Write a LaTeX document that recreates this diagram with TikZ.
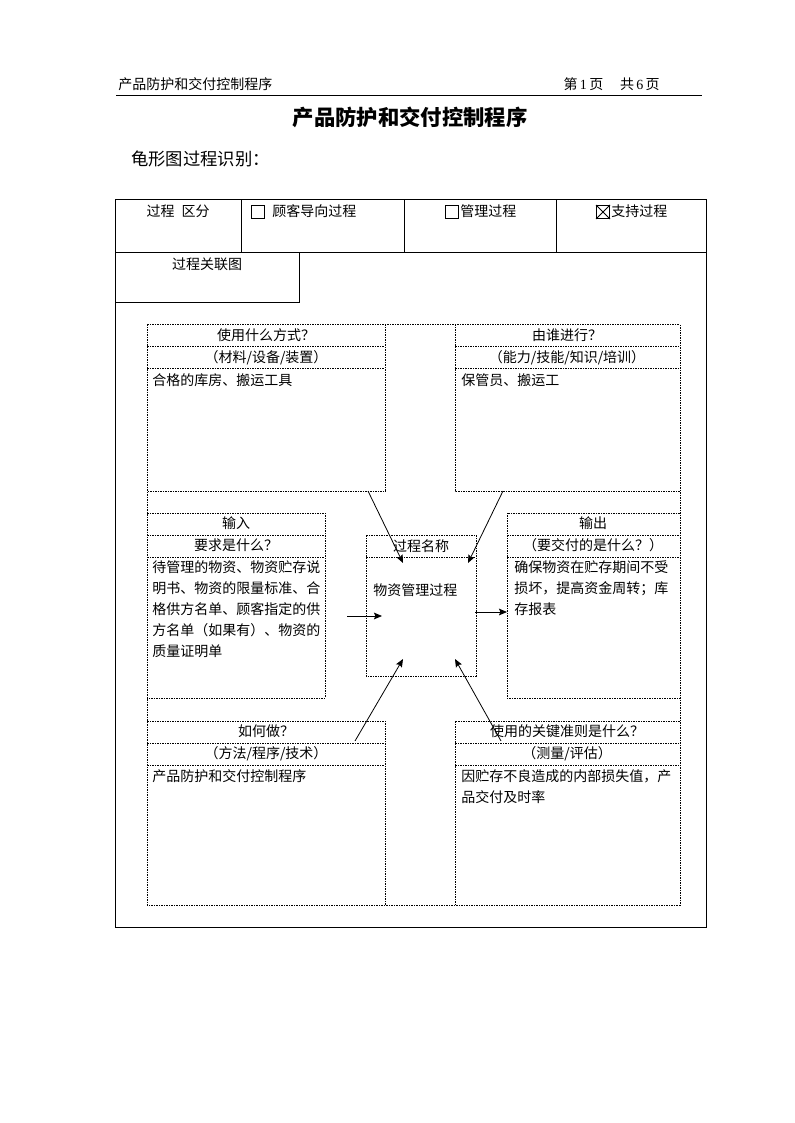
\documentclass[tikz,border=0pt]{standalone}
\usepackage{fontspec}
\setmainfont{Noto Sans CJK SC}
\newfontfamily\latfont{Liberation Serif}
\usetikzlibrary{arrows.meta}
\begin{document}
\begin{tikzpicture}[x=0.75pt,y=-0.75pt,
  solidline/.style={line width=0.75pt,black},
  dotline/.style={line width=0.75pt,black,dash pattern=on 1.5pt off 0.75pt on 0.75pt off 0.75pt},
  txt/.style={inner sep=0pt,font=\fontsize{10.5}{12}\selectfont},
  lt/.style={txt,anchor=base west},
  ct/.style={txt,anchor=base},
  arr/.style={line width=0.6pt,black,-{Stealth[length=6pt,width=5pt,inset=1pt]}},
  chk/.style={draw,line width=0.75pt,minimum width=9.75pt,minimum height=9.75pt,inner sep=0pt}
]
\useasboundingbox (0,0) rectangle (794,1123);
\fill[white] (0,0) rectangle (794,1123);

% page header
\node[lt] (hdrL) at (118,90) {产品防护和交付控制程序};
\node[txt,anchor=base east] (hdrR) at (660,90) {第\,{\latfont 1}\,页\hspace{1.2em}共\,{\latfont 6}\,页};
\draw[solidline] (116,96) -- (702,96);

\node[inner sep=0pt,anchor=base,font=\fontsize{16}{18}\selectfont\bfseries] (title) at (410,126) {产品防护和交付控制程序};
\node[inner sep=0pt,anchor=base west,font=\fontsize{13}{15}\selectfont] (sub) at (131,166) {龟形图过程识别：};

% table
\draw[solidline] (115,200) rectangle (706,927);
\draw[solidline] (115,252) -- (706,252);
\foreach \x in {241,404,556} \draw[solidline] (\x,200) -- (\x,252);
\draw[solidline] (299,252) -- (299,302) -- (115,302);

\node[ct] (kind) at (178,217) {过程\hspace{0.5em}区分};
\node[chk] (cb1) at (258,212) {};
\node[lt] (kind1) at (272,217) {顾客导向过程};
\node[chk] (cb2) at (452,212) {};
\node[lt] (kind2) at (460,217) {管理过程};
\node[chk] (cb3) at (603,212) {};
\draw[line width=0.6pt] (cb3.north west) -- (cb3.south east) (cb3.north east) -- (cb3.south west);
\node[lt] (kind3) at (611,217) {支持过程};
\node[ct] (rel) at (207,269) {过程关联图};

% dotted frame
\draw[dotline] (147,324) -- (680,324);
\draw[dotline] (147,324) -- (147,905) -- (680,905) -- (680,324);
% top-left box
\draw[dotline] (385,324) -- (385,491) -- (147,491);
\draw[dotline] (147,346) -- (385,346) (147,368) -- (385,368);
% top-right box
\draw[dotline] (455,324) -- (455,491) -- (680,491);
\draw[dotline] (455,346) -- (680,346) (455,368) -- (680,368);
% input box
\draw[dotline] (147,513) -- (325,513) -- (325,698) -- (147,698);
\draw[dotline] (147,535) -- (325,535) (147,557) -- (325,557);
% output box
\draw[dotline] (680,513) -- (507,513) -- (507,698) -- (680,698);
\draw[dotline] (507,535) -- (680,535) (507,557) -- (680,557);
% centre box
\draw[dotline] (366,535) rectangle (476,676);
\draw[dotline] (366,557) -- (476,557);
% bottom-left box
\draw[dotline] (147,721) -- (385,721) -- (385,905);
\draw[dotline] (147,743) -- (385,743) (147,765) -- (385,765);
% bottom-right box
\draw[dotline] (680,721) -- (455,721) -- (455,905);
\draw[dotline] (455,743) -- (680,743) (455,765) -- (680,765);

% texts: top-left
\node[ct] (tlT) at (266,340) {使用什么方式？};
\node[ct] (tlSub) at (266,362) {（材料/设备/装置）};
\node[lt] (tlC) at (152,385) {合格的库房、搬运工具};
% top-right
\node[ct] (trT) at (567,340) {由谁进行？};
\node[ct] (trSub) at (567,362) {（能力/技能/知识/培训）};
\node[lt] (trC) at (461,385) {保管员、搬运工};
% input
\node[ct] (inT) at (236,528) {输入};
\node[ct] (inSub) at (236,550) {要求是什么？};
\node[lt] (inC1) at (152,572) {待管理的物资、物资贮存说};
\node[lt] (inC2) at (152,593) {明书、物资的限量标准、合};
\node[lt] (inC3) at (152,614) {格供方名单、顾客指定的供};
\node[lt] (inC4) at (152,635) {方名单（如果有）、物资的};
\node[lt] (inC5) at (152,656) {质量证明单};
% output
\node[ct] (outT) at (593,528) {输出};
\node[ct] (outSub) at (593,550) {（要交付的是什么？）};
\node[lt] (outC1) at (514,572) {确保物资在贮存期间不受};
\node[lt] (outC2) at (514,593) {损坏，提高资金周转；库};
\node[lt] (outC3) at (514,614) {存报表};
% centre
\node[ct] (ctrT) at (421,551) {过程名称};
\node[lt] (ctrC) at (373,595) {物资管理过程};
% bottom-left
\node[ct] (blT) at (266,736) {如何做？};
\node[ct] (blSub) at (266,758) {（方法/程序/技术）};
\node[lt] (blC) at (152,781) {产品防护和交付控制程序};
% bottom-right
\node[ct] (brT) at (567,736) {使用的关键准则是什么？};
\node[ct] (brSub) at (567,758) {（测量/评估）};
\node[lt] (brC1) at (461,781) {因贮存不良造成的内部损失值，产};
\node[lt] (brC2) at (461,802) {品交付及时率};

% arrows
\coordinate (aTLs) at (368,491); \coordinate (aTLe) at (403,563);
\coordinate (aTRs) at (503,491); \coordinate (aTRe) at (468,563);
\coordinate (aINs) at (347,616); \coordinate (aINe) at (382,616);
\coordinate (aOUs) at (475,612); \coordinate (aOUe) at (507,612);
\coordinate (aBLs) at (355,741); \coordinate (aBLe) at (403,659);
\coordinate (aBRs) at (501,741); \coordinate (aBRe) at (455,659);
\draw[arr] (aTLs) -- (aTLe);
\draw[arr] (aTRs) -- (aTRe);
\draw[arr] (aINs) -- (aINe);
\draw[arr] (aOUs) -- (aOUe);
\draw[arr] (aBLs) -- (aBLe);
\draw[arr] (aBRs) -- (aBRe);
\end{tikzpicture}
\end{document}
